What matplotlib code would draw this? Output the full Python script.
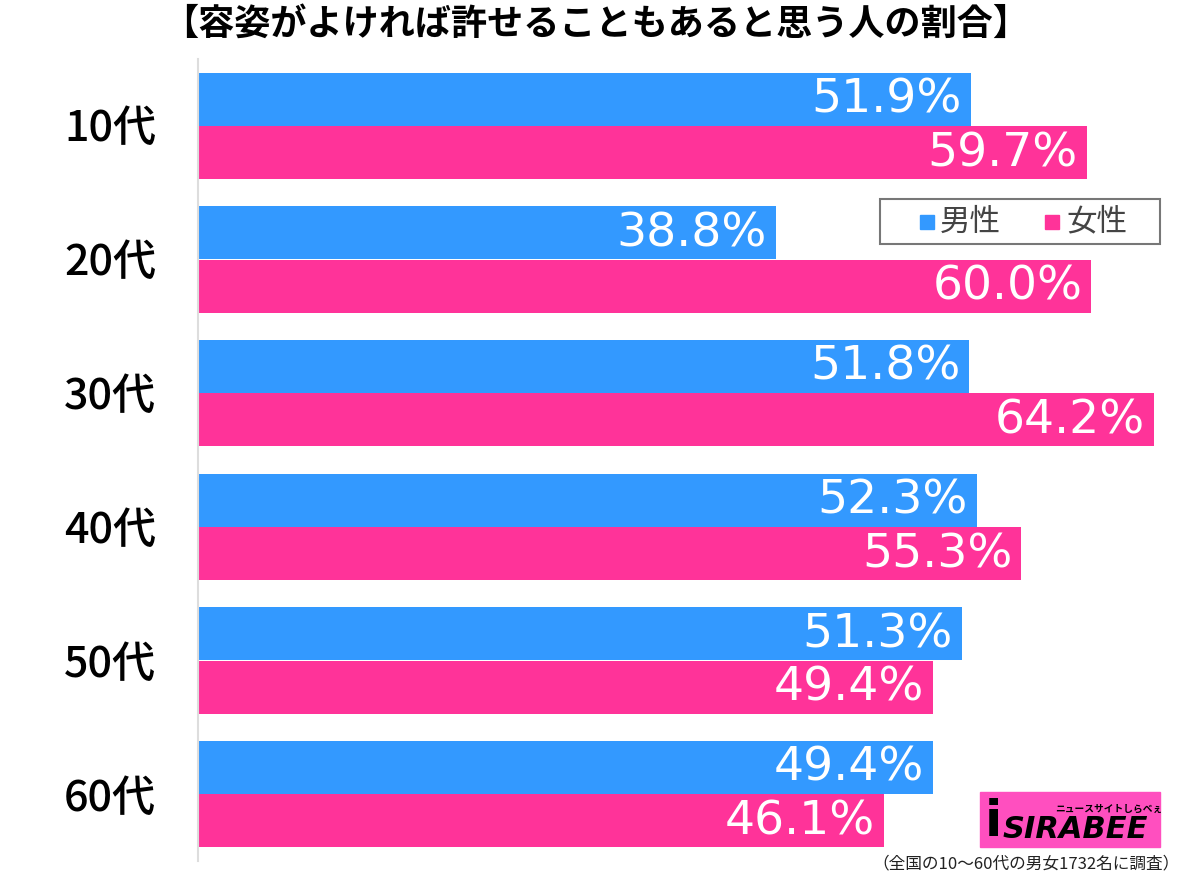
import numpy as np
import matplotlib.pyplot as plt
from matplotlib.patches import Rectangle

plt.rcParams['font.family'] = ['Noto Sans CJK JP', 'DejaVu Sans']

ages = ['10代', '20代', '30代', '40代', '50代', '60代']
male = [51.9, 38.8, 51.8, 52.3, 51.3, 49.4]
female = [59.7, 60.0, 64.2, 55.3, 49.4, 46.1]

blue = '#3399ff'
pink = '#ff3399'

fig = plt.figure(figsize=(12, 8.78), dpi=100)
ax = fig.add_axes([198 / 1200, 16 / 878, 1 - 198 / 1200, 802 / 878])

y = np.arange(len(ages))
h = 0.396
ax.barh(y - 0.2, male, height=h, color=blue)
ax.barh(y + 0.2, female, height=h, color=pink)

for i in range(len(ages)):
    ax.text(male[i] - 0.6, y[i] - 0.2, f'{male[i]:.1f}%', color='white',
            fontsize=34, ha='right', va='center', family='DejaVu Sans')
    ax.text(female[i] - 0.6, y[i] + 0.2, f'{female[i]:.1f}%', color='white',
            fontsize=34, ha='right', va='center', family='DejaVu Sans')
    fig.text(110 / 1200, 1 - (128 + 134 * i) / 878, ages[i], fontsize=31,
             ha='center', va='center', color='black', fontweight='medium')

ax.set_xlim(0, 67.3)
ax.set_ylim(5.5, -0.5)
ax.set_xticks([])
ax.set_yticks([])
for s in ['top', 'right', 'bottom']:
    ax.spines[s].set_visible(False)
ax.spines['left'].set_color('#dddddd')
ax.spines['left'].set_linewidth(1.5)

fig.text(596 / 1200, 1 - 24 / 878, '【容姿がよければ許せることもあると思う人の割合】',
         fontsize=26, fontweight='bold', ha='center', va='center')

# legend
fig.patches.append(Rectangle((880 / 1200, 1 - 245 / 878), 280 / 1200, 45 / 878,
                             transform=fig.transFigure, fill=False,
                             edgecolor='#777777', linewidth=1.5))
fig.patches.append(Rectangle((920 / 1200, 1 - 230 / 878), 14 / 1200, 14 / 878,
                             transform=fig.transFigure, color=blue))
fig.text(940 / 1200, 1 - 222 / 878, '男性', fontsize=22, color='#444444',
         va='center', ha='left')
fig.patches.append(Rectangle((1045 / 1200, 1 - 230 / 878), 14 / 1200, 14 / 878,
                             transform=fig.transFigure, color=pink))
fig.text(1066 / 1200, 1 - 222 / 878, '女性', fontsize=22, color='#444444',
         va='center', ha='left')

# logo
fig.patches.append(Rectangle((980 / 1200, 1 - 848 / 878), 180 / 1200, 55 / 878,
                             transform=fig.transFigure, color='#ff4fbf'))
fig.text(1055 / 1200, 1 - 809 / 878, 'ニュースサイトしらべぇ', fontsize=7,
         fontweight='bold', ha='left', va='center')
fig.text(1003 / 1200, 1 - 830 / 878, 'SIRABEE', fontsize=22, fontweight='bold',
         fontstyle='italic', family='DejaVu Sans', ha='left', va='center')
fig.text(985 / 1200, 1 - 822 / 878, 'i', fontsize=36, fontweight='bold',
         family='DejaVu Sans', ha='left', va='center')

fig.text(1180 / 1200, 1 - 864 / 878, '（全国の10～60代の男女1732名に調査）',
         fontsize=12, ha='right', va='center', color='#222222')

fig.savefig('out.png', dpi=100)
